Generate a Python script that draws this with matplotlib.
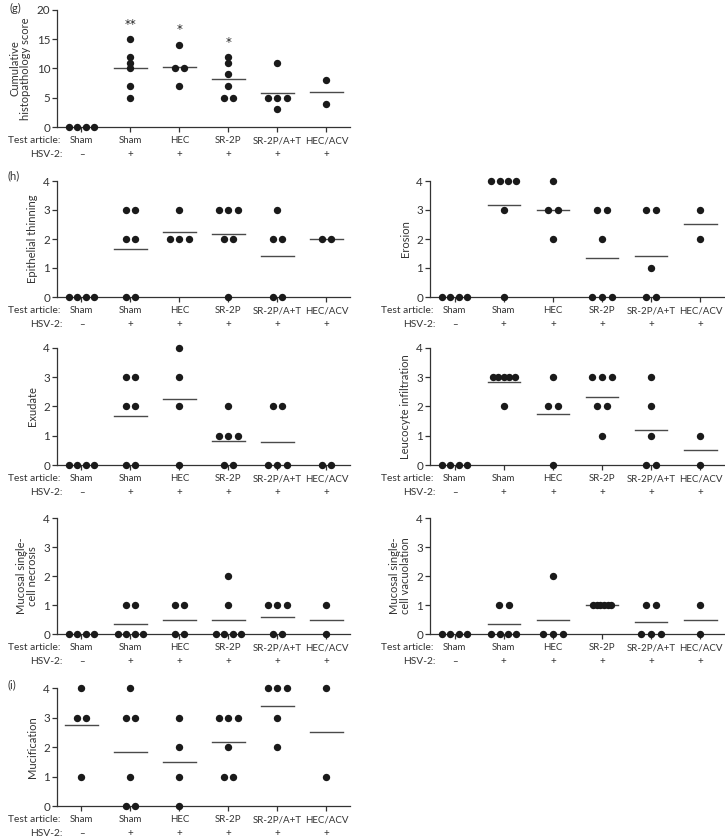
import matplotlib

matplotlib.use("Agg")

import matplotlib.pyplot as plt  # noqa: E402
import numpy as np  # noqa: E402

plt.rcParams["font.family"] = ["Lato", "DejaVu Sans"]

# ------------------------------------------------------------------
# Data (one list per treatment group, in display order)
# ------------------------------------------------------------------
articles = ["Sham", "Sham", "HEC", "SR-2P", "SR-2P/A+T", "HEC/ACV"]
hsv2 = ["\u2013", "+", "+", "+", "+", "+"]

cumulative = [[0, 0, 0, 0], [15, 12, 11, 10, 7, 5], [14, 10, 10, 7],
              [12, 11, 9, 7, 5, 5], [11, 5, 5, 5, 3], [8, 4]]
cumulative_stars = ["", "**", "*", "*", "", ""]
cumulative_star_y = [0, 17.6, 16.6, 14.5, 0, 0]

epithelial = [[0, 0, 0, 0], [3, 3, 2, 2, 0, 0], [3, 2, 2, 2],
              [3, 3, 3, 2, 2, 0], [3, 2, 2, 0, 0], [2, 2]]
erosion = [[0, 0, 0, 0], [4, 4, 4, 4, 3, 0], [4, 3, 3, 2],
           [3, 3, 2, 0, 0, 0], [3, 3, 1, 0, 0], [3, 2]]
exudate = [[0, 0, 0, 0], [3, 3, 2, 2, 0, 0], [4, 3, 2, 0],
           [2, 1, 1, 1, 0, 0], [2, 2, 0, 0, 0], [0, 0]]
leucocyte = [[0, 0, 0, 0], [3, 3, 3, 3, 3, 2], [3, 2, 2, 0],
             [3, 3, 3, 2, 2, 1], [3, 2, 1, 0, 0], [1, 0]]
necrosis = [[0, 0, 0, 0], [1, 1, 0, 0, 0, 0], [1, 1, 0, 0],
            [2, 1, 0, 0, 0, 0], [1, 1, 1, 0, 0], [1, 0]]
vacuolation = [[0, 0, 0, 0], [1, 1, 0, 0, 0, 0], [2, 0, 0, 0],
               [1, 1, 1, 1, 1, 1], [1, 1, 0, 0, 0], [1, 0]]
mucification = [[4, 3, 3, 1], [4, 3, 3, 1, 0, 0], [3, 2, 1, 0],
                [3, 3, 3, 2, 1, 1], [4, 4, 4, 3, 2], [4, 1]]

W, H = 725, 838
FS = 8.0
CAT_FS = 7.0
# horizontal spacing of tied points (category units) by tie count
TIE_STEP = {1: 0.0, 2: 0.2, 3: 0.2, 4: 0.17, 5: 0.11, 6: 0.075}


def make_axes(fig, left, right, top, bottom):
    return fig.add_axes([left / W, 1 - bottom / H, (right - left) / W, (bottom - top) / H])


def scatter_panel(ax, groups, ymax, yticks, ylabel, show_zero_mean=False):
    for i, vals in enumerate(groups):
        vals = np.asarray(vals, dtype=float)
        for v in np.unique(vals):
            n = int(np.sum(vals == v))
            step = TIE_STEP.get(n, 0.5 / max(n - 1, 1))
            xs = i + (np.arange(n) - (n - 1) / 2) * step
            ax.plot(xs, np.full(n, v), "o", color="#1a1a1a", ms=5.3,
                    mec="none", clip_on=False, zorder=3)
        m = vals.mean()
        if m > 0 or show_zero_mean:
            ax.plot([i - 0.33, i + 0.33], [m, m], color="#4a4a4a", lw=1.0,
                    zorder=2, clip_on=False)

    ax.set_xlim(-0.5, 5.48)
    ax.set_ylim(0, ymax)
    ax.set_yticks(yticks)
    ax.set_xticks(range(len(groups)))
    ax.set_xticklabels([])
    for side in ("top", "right"):
        ax.spines[side].set_visible(False)
    for side in ("left", "bottom"):
        ax.spines[side].set_linewidth(0.9)
        ax.spines[side].set_color("#333333")
    ax.tick_params(direction="out", length=3.5, width=0.9, color="#333333",
                   labelsize=FS + 0.4, pad=1.5, labelcolor="#333333")
    ax.set_ylabel(ylabel, fontsize=FS, color="#333333", linespacing=0.95)

    # two rows of category annotations under the axis
    for i, (a, h) in enumerate(zip(articles, hsv2)):
        ax.annotate(a, xy=(i, 0), xycoords=("data", "axes fraction"),
                    xytext=(0, -10), textcoords="offset points",
                    ha="center", va="center", fontsize=CAT_FS, color="#333333")
        ax.annotate(h, xy=(i, 0), xycoords=("data", "axes fraction"),
                    xytext=(0, -20), textcoords="offset points",
                    ha="center", va="center", fontsize=CAT_FS, color="#333333")
    ax.annotate("Test article:", xy=(0, 0), xycoords="axes fraction",
                xytext=(2.5, -10), textcoords="offset points",
                ha="right", va="center", fontsize=CAT_FS + 0.4, color="#333333")
    ax.annotate("HSV-2:", xy=(0, 0), xycoords="axes fraction",
                xytext=(4, -20), textcoords="offset points",
                ha="right", va="center", fontsize=CAT_FS + 0.4, color="#333333")


fig = plt.figure(figsize=(W / 100, H / 100), dpi=100)

LCOL = (57, 350)
RCOL = (430, 724)

ax_g = make_axes(fig, *LCOL, 10, 127)
scatter_panel(ax_g, cumulative, 20, [0, 5, 10, 15, 20],
              "Cumulative\nhistopathology score")
for i, (s, y) in enumerate(zip(cumulative_stars, cumulative_star_y)):
    if s:
        ax_g.text(i, y, s, ha="center", va="center", fontsize=8.5,
                  family="DejaVu Sans", color="#222222")

rows = [(181, 297), (348, 465), (518, 634)]
panels = [
    (LCOL, rows[0], epithelial, "Epithelial thinning"),
    (RCOL, rows[0], erosion, "Erosion"),
    (LCOL, rows[1], exudate, "Exudate"),
    (RCOL, rows[1], leucocyte, "Leucocyte infiltration"),
    (LCOL, rows[2], necrosis, "Mucosal single-\ncell necrosis"),
    (RCOL, rows[2], vacuolation, "Mucosal single-\ncell vacuolation"),
]
for col, (top, bot), groups, label in panels:
    ax = make_axes(fig, *col, top, bot)
    scatter_panel(ax, groups, 4, [0, 1, 2, 3, 4], label)

ax_i = make_axes(fig, *LCOL, 688, 806)
scatter_panel(ax_i, mucification, 4, [0, 1, 2, 3, 4], "Mucification",
              show_zero_mean=True)

for label, x, y in [("(g)", 10, 8), ("(h)", 8, 176), ("(i)", 8, 685)]:
    fig.text(x / W, 1 - y / H, label, ha="left", va="center",
             fontsize=FS, color="#333333")

fig.savefig("out.png", dpi=100)
plt.close(fig)
